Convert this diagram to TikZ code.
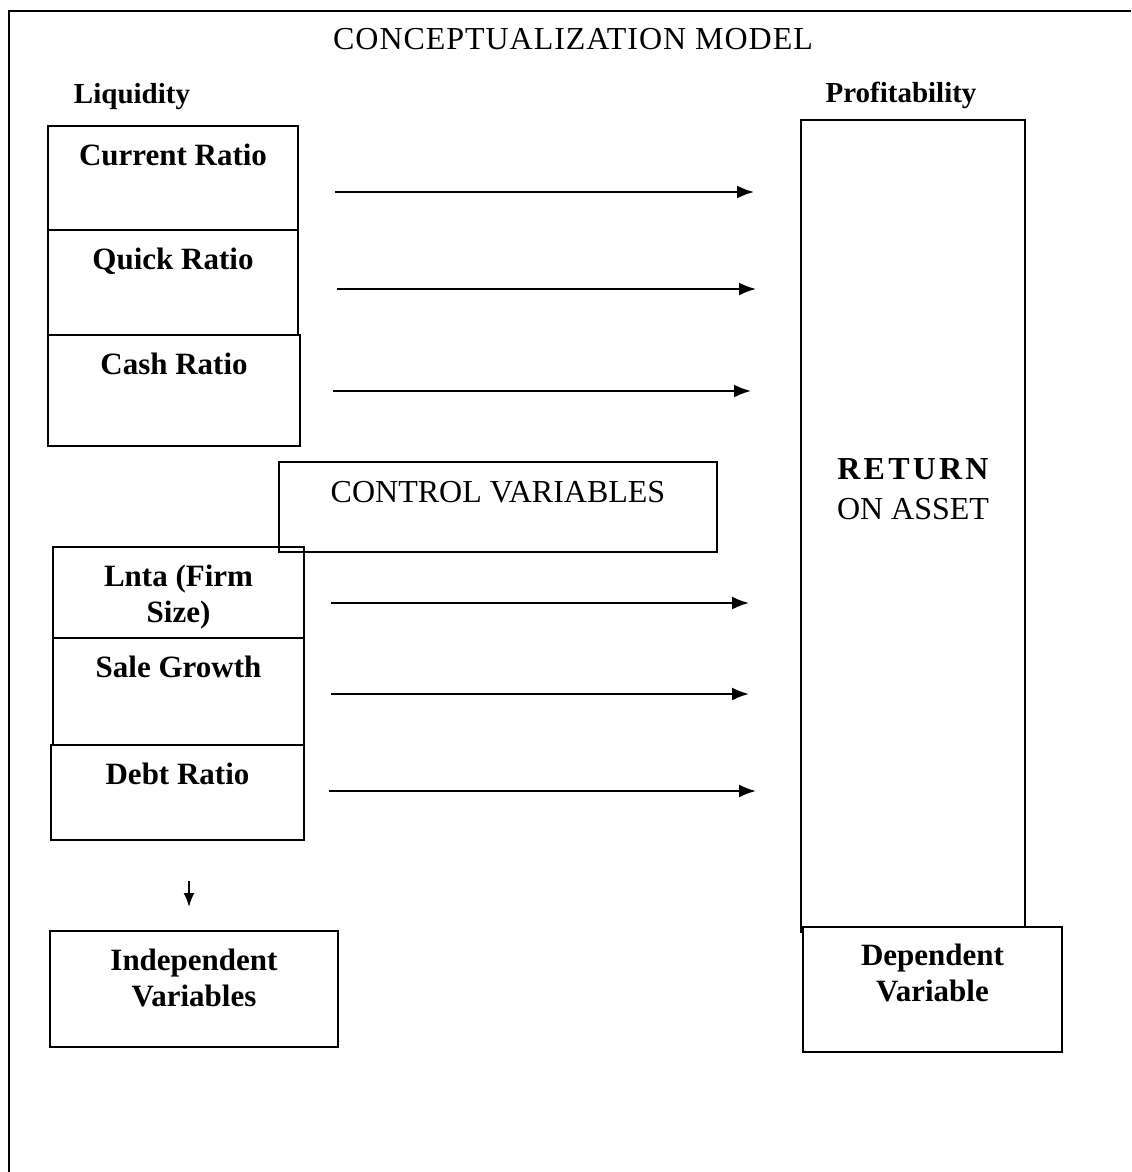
\documentclass[tikz,border=0pt]{standalone}
\usepackage{fontspec}
\setmainfont{Liberation Serif}
\usetikzlibrary{positioning,calc,arrows.meta,fit}

\begin{document}
\begin{tikzpicture}[x=0.5pt,y=-0.5pt,
   vbox/.style={draw,line width=1pt,inner sep=0pt},
   lbl/.style={inner sep=0pt,anchor=north,align=center,font=\fontsize{15.5}{18}\selectfont\bfseries},
   head/.style={inner sep=0pt,anchor=north,align=center,font=\fontsize{16}{19}\selectfont},
   flow/.style={-{Latex[length=8.5pt,width=6.5pt]},line width=1pt},
   node distance=9pt]
 \useasboundingbox (0,0) rectangle (1131,1172);
 \draw[line width=1pt] (9,1172) -- (9,11) -- (1131,11);
 \node[head,font=\fontsize{16}{19}\selectfont\addfontfeature{LetterSpace=3}] (title) at (573,28) {CONCEPTUALIZATION MODEL};
 \node[lbl,font=\fontsize{14.5}{17}\selectfont\bfseries] (liq) at (132,83) {Liquidity};
 \node[lbl,font=\fontsize{14.5}{17}\selectfont\bfseries] (prof) at (901,82) {Profitability};
 % left column: ratios and control variables
 \foreach \n/\a/\b/\c/\d/\t in {cr/48/126/298/230/Current Ratio,
     qr/48/230/298/335/Quick Ratio,
     cs/48/335/300/446/Cash Ratio,
     ln/53/547/304/638/Lnta (Firm\\Size),
     sg/53/638/304/745/Sale Growth,
     dr/51/745/304/840/Debt Ratio,
     iv/50/931/338/1047/Independent\\Variables}
 {\node[vbox,fit={(\a,\b)(\c,\d)}] (\n) {};
  \node[lbl,below=9.5pt of \n.north] (\n t) {\t};}
 \node[vbox,fit={(279,462)(717,552)}] (cv) {};
 \node[head,below=10pt of cv.north] (cvt) {CONTROL VARIABLES};
 % right column
 \node[vbox,fit={(801,120)(1025,932)}] (roa) {};
 \node[lbl,font=\fontsize{16}{19}\selectfont\bfseries\addfontfeature{LetterSpace=10}] (ret) at (913,458) {RETURN};
 \node[head,below=9pt of ret] (oa) {ON ASSET};
 \node[vbox,fill=white,fit={(803,927)(1062,1052)}] (dv) {};
 \node[lbl,below=9pt of dv.north] (dvt) {Dependent\\Variable};
 % arrows
 \foreach \n/\y/\s/\e in {cr/192/18/23,qr/289/19/22,cs/391/16/24.5,ln/603/13/25.5,sg/694/13/25.5,dr/791/12/22}
  \draw[flow,shorten <=\s pt,shorten >=\e pt] (\n.east |- 0,\y) -- (roa.west |- 0,\y);
 \draw[flow,-{Latex[length=7pt,width=5.5pt]},shorten <=20pt,shorten >=11.5pt] (dr.south -| 189,0) -- (iv.north -| 189,0);
\end{tikzpicture}
\end{document}
